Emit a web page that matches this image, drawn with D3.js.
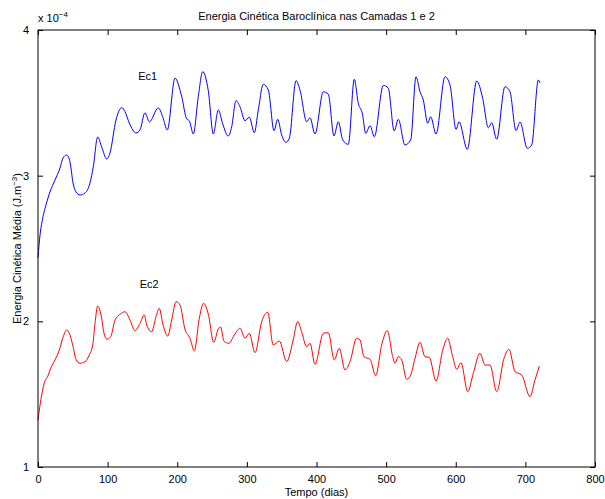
<!DOCTYPE html>
<html><head><meta charset="utf-8">
<script src="https://cdn.jsdelivr.net/npm/d3@7"></script>
<style>body{margin:0;background:#fff}svg{font-family:"Liberation Sans",Arial,sans-serif}</style>
</head><body><svg id="c" width="605" height="499"></svg>
<script>
const xTicks = [0,100,200,300,400,500,600,700,800];
const yTicks = [1,2,3,4];
const ec1Days = [0,2.9,5.7,11.5,17.2,24.4,31.6,35.9,41.2,46,50.3,54.6,60.3,67.5,74.7,79.4,85.7,91.5,98.7,103.4,112,120.2,125,131.1,140.8,146.5,153.7,159.9,172.8,179.1,185.7,196.8,206.4,213.6,217.3,223.1,230.2,236.6,244.6,251.8,259,265.3,273.3,278.2,284.4,290.1,297.3,303.5,310.7,316.4,323.6,330.8,339,344.3,350,356.2,361,370.6,376.3,385.9,390.7,397.8,409.8,417,425.1,431.3,437.7,445.7,454.3,460,465.8,470.7,476.9,483,496,503.1,511.6,517.5,527.1,535.3,542.9,548.7,553.4,559.7,564,571.7,584.6,591.8,600.4,604.7,616.6,630.1,638.7,646.8,651.6,658.8,670.7,677.9,686.5,692.3,702.8,709.1,718.6,721];
const ec1Vals = [2.435,2.593,2.682,2.799,2.888,2.970,3.053,3.121,3.142,3.094,2.950,2.888,2.867,2.881,2.950,3.060,3.265,3.197,3.114,3.156,3.382,3.467,3.439,3.362,3.293,3.314,3.432,3.370,3.465,3.405,3.314,3.670,3.542,3.389,3.377,3.286,3.542,3.714,3.583,3.286,3.451,3.355,3.272,3.336,3.515,3.473,3.377,3.401,3.295,3.451,3.627,3.588,3.309,3.387,3.279,3.229,3.257,3.652,3.588,3.370,3.398,3.286,3.576,3.559,3.272,3.370,3.245,3.215,3.662,3.497,3.428,3.291,3.343,3.267,3.620,3.600,3.307,3.387,3.211,3.245,3.679,3.576,3.519,3.360,3.405,3.286,3.679,3.622,3.318,3.370,3.181,3.650,3.531,3.329,3.364,3.250,3.611,3.576,3.309,3.368,3.188,3.211,3.657,3.636];
const ec2Days = [0,1.9,5.3,8.6,14.8,18.2,24.4,30.6,35.5,41.2,45,49.8,54.6,60.3,67.5,73.7,78.6,81.9,85.7,90.5,94.8,98.7,104.4,110.6,117.8,125,132.1,139.3,146.5,152.7,156.1,163.3,169.5,174.2,179.1,186.3,192,198.2,204,211.1,218.3,224.5,231.7,237.7,244.6,252.4,259,262.4,267.1,274.3,281.9,290.1,297.3,303.5,311.7,321.3,329.9,337.8,346.6,357.2,366.5,372.9,378.6,385.9,390.7,397.8,409.8,417,425.5,432.7,440.9,448.1,457.7,462.5,468.2,476.9,485,493.6,501.7,509.5,512.7,517.5,522.4,529.6,535.3,541.5,548.7,555.8,562,571.7,581.3,588.4,595.6,601.4,607.5,617.2,625.2,634.8,642,649.2,658.8,669.3,676.5,685.1,694.7,706.6,713.8,720];
const ec2Vals = [1.323,1.391,1.494,1.570,1.632,1.678,1.735,1.803,1.884,1.941,1.918,1.838,1.739,1.712,1.723,1.769,1.838,1.986,2.105,2.044,1.918,1.877,1.895,2.009,2.048,2.066,2.009,1.936,1.986,2.044,1.975,1.929,2.032,2.089,1.986,1.899,2.009,2.135,2.112,1.945,1.884,1.798,2.021,2.124,2.050,1.855,1.949,1.961,1.863,1.849,1.906,1.952,1.884,1.918,1.785,1.998,2.062,1.838,1.865,1.723,1.872,1.998,1.929,1.826,1.849,1.705,1.918,1.922,1.735,1.815,1.666,1.723,1.884,1.872,1.757,1.739,1.627,1.838,1.936,1.757,1.712,1.757,1.735,1.602,1.632,1.746,1.856,1.757,1.753,1.590,1.803,1.884,1.757,1.671,1.716,1.517,1.643,1.781,1.700,1.700,1.517,1.746,1.808,1.654,1.632,1.483,1.597,1.693];

const svg = d3.select("#c");
const L=38, R=595, T=30, B=467;
const x = d3.scaleLinear().domain([0,800]).range([L,R]);
const y = d3.scaleLinear().domain([1,4]).range([B,T]);

const line = d3.line().x(d=>x(d[0])).y(d=>y(d[1])).curve(d3.curveMonotoneX);
svg.append("path").datum(ec1Days.map((d,i)=>[d,ec1Vals[i]]))
  .attr("d", line).attr("fill","none").attr("stroke","#0000ff").attr("stroke-width",1);
svg.append("path").datum(ec2Days.map((d,i)=>[d,ec2Vals[i]]))
  .attr("d", line).attr("fill","none").attr("stroke","#ff0000").attr("stroke-width",1);

function styleAxis(g, labels){
  g.select(".domain").remove();
  g.selectAll("line").attr("stroke","#000");
  g.selectAll("text").attr("fill","#000").style("font-size","11px");
  if(!labels) g.selectAll("text").remove();
}
svg.append("g").attr("transform",`translate(0,${B})`)
  .call(d3.axisBottom(x).tickValues(xTicks).tickSize(-5).tickPadding(8).tickFormat(d3.format("d")))
  .call(g=>styleAxis(g,true));
svg.append("g").attr("transform",`translate(0,${T})`)
  .call(d3.axisTop(x).tickValues(xTicks).tickSize(-5).tickFormat(""))
  .call(g=>styleAxis(g,false));
svg.append("g").attr("transform",`translate(${L},0)`)
  .call(d3.axisLeft(y).tickValues(yTicks).tickSize(-5).tickPadding(9).tickFormat(d3.format("d")))
  .call(g=>styleAxis(g,true));
svg.append("g").attr("transform",`translate(${R},0)`)
  .call(d3.axisRight(y).tickValues(yTicks).tickSize(-5).tickFormat(""))
  .call(g=>styleAxis(g,false));

svg.append("rect").attr("x",L).attr("y",T).attr("width",R-L).attr("height",B-T)
  .attr("fill","none").attr("stroke","#000").attr("stroke-width",1);

svg.append("text").attr("x",(L+R)/2).attr("y",20).attr("text-anchor","middle")
  .style("font-size","11px").text("Energia Cinética Baroclínica nas Camadas 1 e 2");
const ex = svg.append("text").attr("x",38).attr("y",22).style("font-size","11px");
ex.append("tspan").text("x 10");
ex.append("tspan").attr("dy",-5).style("font-size","8px").text("−4");

svg.append("text").attr("x",x(144)).attr("y",y(3.657)).style("font-size","11px").text("Ec1");
svg.append("text").attr("x",x(146)).attr("y",y(2.23)).style("font-size","11px").text("Ec2");

svg.append("text").attr("x",(L+R)/2).attr("y",496).attr("text-anchor","middle")
  .style("font-size","11px").text("Tempo (dias)");
const yl = svg.append("text").attr("transform",`translate(21,${(T+B)/2}) rotate(-90)`)
  .attr("text-anchor","middle").style("font-size","11px");
yl.append("tspan").text("Energia Cinética Média (J.m");
yl.append("tspan").attr("dy",-4).style("font-size","8px").text("−3");
yl.append("tspan").attr("dy",4).text(")");
</script></body></html>
